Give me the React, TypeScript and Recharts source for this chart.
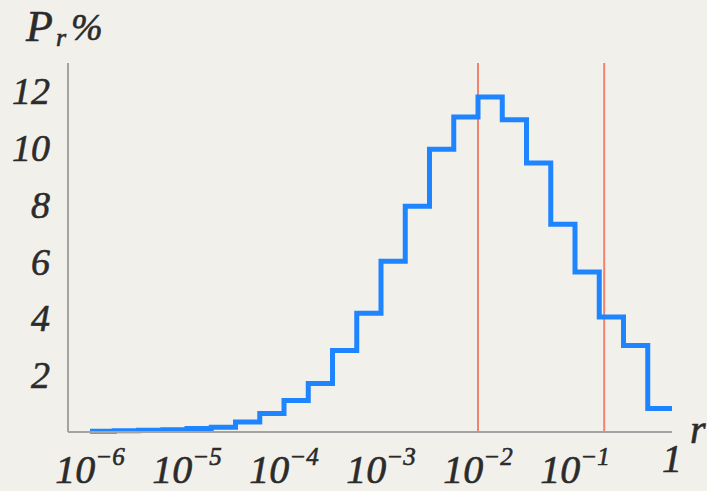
import { LineChart, Line, XAxis, YAxis, ReferenceLine } from "recharts";

// left edge of each quarter-decade bin, as a power of ten
const binExp = [
  -6, -5.75, -5.5, -5.25, -5, -4.75, -4.5, -4.25, -4, -3.75, -3.5, -3.25,
  -3, -2.75, -2.5, -2.25, -2, -1.75, -1.5, -1.25, -1, -0.75, -0.5, -0.25,
];
// share of events in each bin, percent
const binPct = [
  0.03, 0.04, 0.06, 0.08, 0.12, 0.17, 0.35, 0.65, 1.11, 1.71, 2.87, 4.18,
  6.02, 7.95, 9.96, 11.1, 11.8, 11.0, 9.48, 7.32, 5.64, 4.05, 3.05, 0.83,
];
const xTicks = [1e-6, 1e-5, 1e-4, 1e-3, 1e-2, 1e-1, 1];
const yTicks = [2, 4, 6, 8, 10, 12];
const markers = [0.01, 0.2];

const data = [
  ...binExp.map((e, i) => ({ r: Math.pow(10, e), p: binPct[i] })),
  { r: 1, p: binPct[binPct.length - 1] },
];

const FONT = "'Liberation Serif', 'Times New Roman', serif";
const INK = "#2b2b2b";
const txt = { fontFamily: FONT, fontStyle: "italic", fill: INK, stroke: INK, strokeWidth: 0.6 } as const;

const XTick = (props: any) => {
  const { x, y, payload } = props;
  const v = payload.value as number;
  if (v === 1) {
    return (
      <text x={x} y={y + 40} textAnchor="middle" fontSize={40} {...txt}>
        1
      </text>
    );
  }
  const exp = Math.round(Math.log10(v));
  return (
    <text x={x} y={y + 51} textAnchor="middle" fontSize={40} {...txt}>
      10
      <tspan dy={-18} fontSize={25}>{"\u2212" + Math.abs(exp)}</tspan>
    </text>
  );
};

const YTick = (props: any) => {
  const { x, y, payload } = props;
  return (
    <text x={x - 18} y={y + 13} textAnchor="end" fontSize={38} {...txt}>
      {payload.value}
    </text>
  );
};

export default function App() {
  return (
    <div style={{ position: "absolute", left: 0, top: 0, width: 707, height: 491, background: "#f2f0ea", overflow: "hidden" }}>
      <LineChart width={707} height={491} data={data} margin={{ top: 63, right: 35, bottom: 0, left: 0 }}>
        <XAxis
          dataKey="r"
          type="number"
          scale="log"
          domain={[5.93e-7, 1]}
          allowDataOverflow
          ticks={xTicks}
          tick={<XTick />}
          tickSize={0}
          tickMargin={0}
          tickLine={false}
          axisLine={{ stroke: "#a3a3a3", strokeWidth: 2 }}
          height={59}
          interval={0}
        />
        <YAxis
          type="number"
          domain={[0, 13]}
          ticks={yTicks}
          tick={<YTick />}
          tickSize={0}
          tickMargin={0}
          tickLine={false}
          axisLine={{ stroke: "#a3a3a3", strokeWidth: 2 }}
          width={68}
          interval={0}
          label={{
            content: () => (
              <g>
                <text x={26} y={41} fontSize={44} {...txt}>P</text>
                <text x={56} y={46} fontSize={26} {...txt}>r</text>
                <text x={71} y={40} fontSize={38} {...txt}>%</text>
                <text x={690} y={443} fontSize={40} {...txt}>r</text>
              </g>
            ),
          }}
        />
        {markers.map((m) => (
          <ReferenceLine key={m} x={m} stroke="#f3826f" strokeWidth={2} ifOverflow="extendDomain" />
        ))}
        <Line
          type="stepAfter"
          dataKey="p"
          stroke="#1e84ff"
          strokeWidth={5}
          dot={false}
          isAnimationActive={false}
        />
      </LineChart>
    </div>
  );
}
